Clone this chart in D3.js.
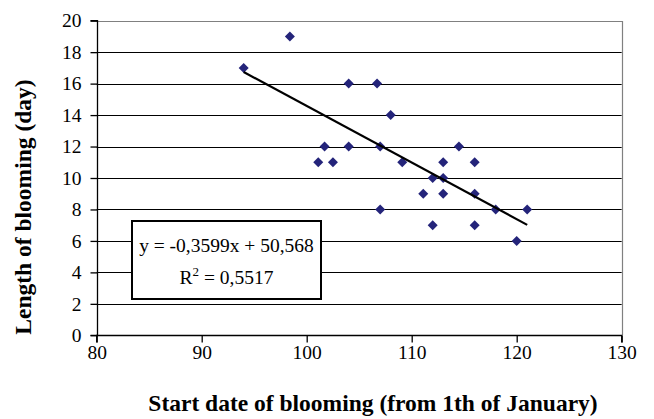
<!DOCTYPE html>
<html><head><meta charset="utf-8">
<script src="https://cdn.jsdelivr.net/npm/d3@7"></script>
<style>
html,body{margin:0;padding:0;background:#fff;}
svg{display:block;font-family:"Liberation Serif","Times New Roman",serif;}
</style></head>
<body>
<svg id="c" width="654" height="419"></svg>
<script>
const startDay = [94, 98.4, 104, 106.7, 108, 101.7, 104, 107, 114.5, 101.1, 102.5, 109.1, 113, 116, 112, 113, 111.1, 113, 116, 107, 118, 121, 112, 116, 120];
const lengthDay = [17, 19, 16, 16, 14, 12, 12, 12, 12, 11, 11, 11, 11, 11, 10, 10, 9, 9, 9, 8, 8, 8, 7, 7, 6];
const xTicks = [80, 90, 100, 110, 120, 130];
const yTicks = [0, 2, 4, 6, 8, 10, 12, 14, 16, 18, 20];
const slope = -0.3599, intercept = 50.568;
const eqText = "y = -0,3599x + 50,568";
const r2Value = "0,5517";
const xTitle = "Start date of blooming (from 1th of January)";
const yTitle = "Length of blooming (day)";

const svg = d3.select("#c");
const L = 96.7, R = 621.7, T = 20.7, B = 335.3;
const x = d3.scaleLinear().domain([80, 130]).range([L, R]);
const y = d3.scaleLinear().domain([0, 20]).range([B, T]);

svg.append("g").selectAll("line").data(yTicks.filter(v => v > 0 && v < 20)).join("line")
  .attr("x1", L).attr("x2", R)
  .attr("y1", d => Math.round(y(d)) + 0.5).attr("y2", d => Math.round(y(d)) + 0.5)
  .attr("stroke", "#000").attr("stroke-width", 1);

svg.append("path")
  .attr("d", `M${L},${Math.round(T)+0.5}H${Math.round(R)+0.5}V${B}`)
  .attr("fill", "none").attr("stroke", "#808080").attr("stroke-width", 1.2);

const yAxis = d3.axisLeft(y).tickValues(yTicks).tickSize(7).tickPadding(9).tickFormat(d3.format("d"));
const gy = svg.append("g").attr("transform", `translate(${Math.round(L)+0.5},0)`).call(yAxis);
const xAxis = d3.axisBottom(x).tickValues(xTicks).tickSize(7).tickPadding(9).tickFormat(d3.format("d"));
const gx = svg.append("g").attr("transform", `translate(0,${Math.round(B)+0.5})`).call(xAxis);
[gx, gy].forEach(g => {
  g.select(".domain").attr("stroke", "#000").attr("stroke-width", 1.3);
  g.selectAll(".tick line").attr("stroke", "#000").attr("stroke-width", 1.3);
  g.selectAll(".tick text").attr("font-family", "Liberation Serif").attr("font-size", 19.5).attr("fill", "#000");
});
gy.select(".domain").attr("d", `M-7,${y(0)}H0V${y(20)}H-7`);
gx.select(".domain").attr("d", `M${x(80)},7V0H${x(130)}V7`);
gx.selectAll(".tick text").attr("y", 23).attr("dy", "0");

const pts = startDay.map((d, i) => ({x: d, y: lengthDay[i]}));
svg.append("g").selectAll("path").data(pts).join("path")
  .attr("d", d => { const cx = x(d.x), cy = y(d.y), r = 5; return `M${cx},${cy-r}L${cx+r},${cy}L${cx},${cy+r}L${cx-r},${cy}Z`; })
  .attr("fill", "#24247a");

const xmin = d3.min(startDay), xmax = d3.max(startDay);
svg.append("line")
  .attr("x1", x(xmin)).attr("y1", y(slope * xmin + intercept))
  .attr("x2", x(xmax)).attr("y2", y(slope * xmax + intercept))
  .attr("stroke", "#000").attr("stroke-width", 2.2);

svg.append("rect").attr("x", 132).attr("y", 221).attr("width", 189).attr("height", 78)
  .attr("fill", "#fff").attr("stroke", "#000").attr("stroke-width", 2);
svg.append("text").attr("x", 226.5).attr("y", 252).attr("text-anchor", "middle")
  .attr("font-size", 19.5).text(eqText);
const r2 = svg.append("text").attr("x", 226.5).attr("y", 284).attr("text-anchor", "middle").attr("font-size", 19.5);
r2.append("tspan").text("R");
r2.append("tspan").attr("dy", -8).attr("font-size", 13).text("2");
r2.append("tspan").attr("dy", 8).text(" = " + r2Value);

svg.append("text").attr("x", 373).attr("y", 411).attr("text-anchor", "middle")
  .attr("font-size", 23.5).attr("font-weight", "bold").text(xTitle);
svg.append("text").attr("transform", "translate(31,207) rotate(-90)").attr("text-anchor", "middle")
  .attr("font-size", 23.5).attr("font-weight", "bold").text(yTitle);
</script>
</body></html>
